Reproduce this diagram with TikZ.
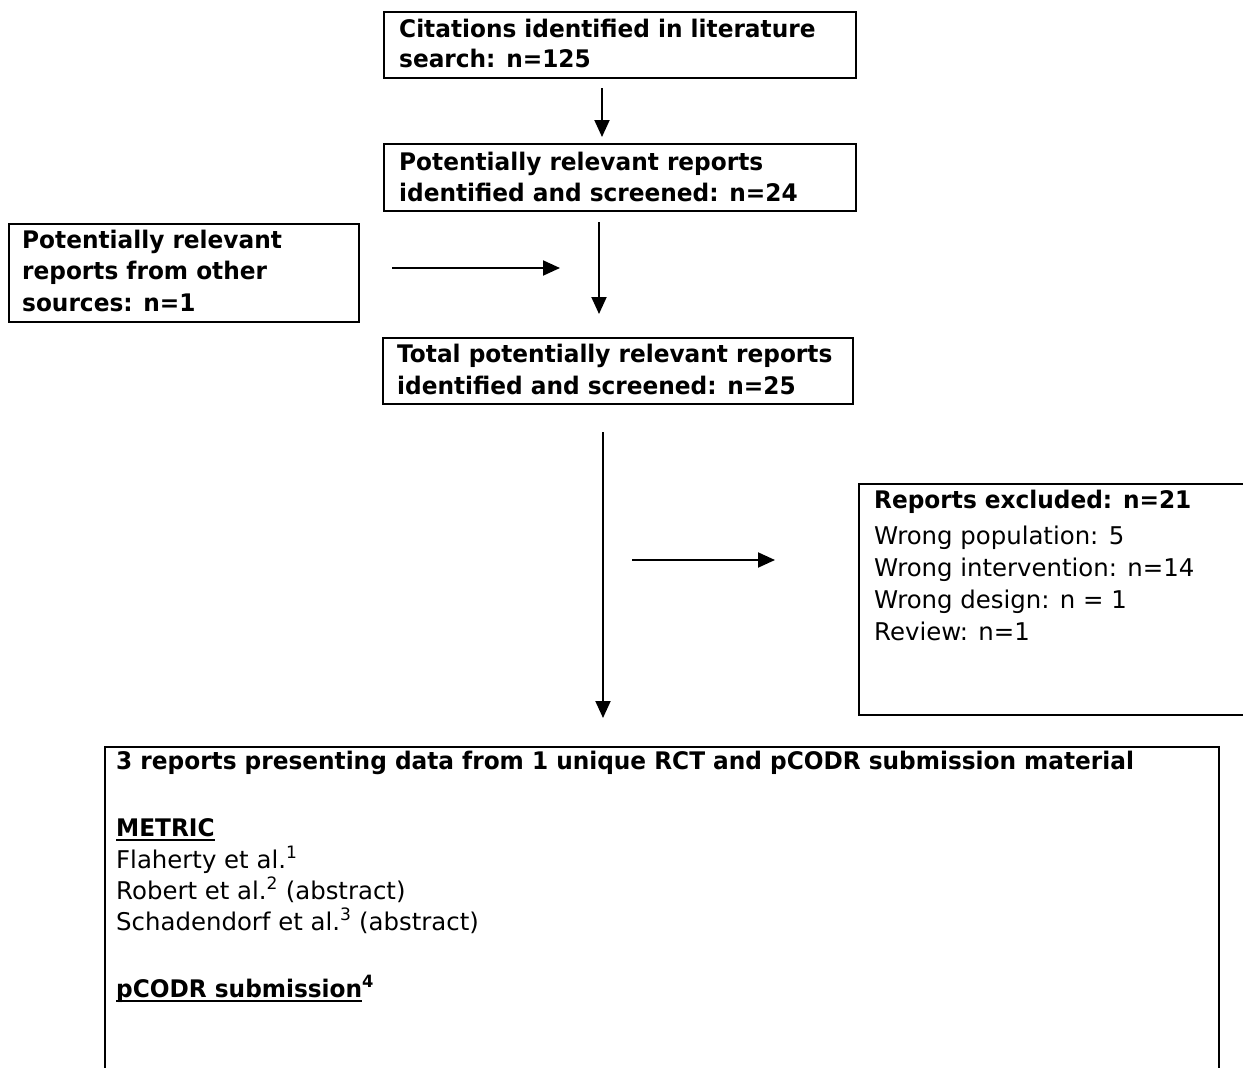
\documentclass[tikz,border=0pt]{standalone}
\usepackage{fontspec}
\setmainfont{DejaVu Sans}[BoldFeatures={FakeStretch=0.96}]
\usetikzlibrary{arrows.meta}
\newcommand\myul[1]{\setbox0\hbox{#1}\rlap{\rule[-5pt]{\wd0}{2.5pt}}\box0}
\begin{document}
\begin{tikzpicture}[x=1pt,y=-1pt,
  box/.style={draw, line width=2.3pt, rectangle, anchor=north west, inner sep=0pt},
  txt/.style={anchor=base west, inner sep=0pt, font=\fontsize{24.4}{30}\selectfont},
  btxt/.style={anchor=base west, inner sep=0pt, font=\fontsize{24.2}{30}\selectfont\bfseries},
  arr/.style={line width=2pt, -{Triangle[length=17pt,width=15pt]}}]
\useasboundingbox (0,0) rectangle (1243,1068);
\clip (0,0) rectangle (1243,1068);
% boxes
\node[box, minimum width=472pt, minimum height=66pt] (b1) at (383,11) {};
\node[box, minimum width=472pt, minimum height=67pt] (b2) at (383,143) {};
\node[box, minimum width=350pt, minimum height=98pt] (b3) at (8,223) {};
\node[box, minimum width=470pt, minimum height=66pt] (b4) at (382,337) {};
\node[box, minimum width=420pt, minimum height=231pt] (b5) at (858,483) {};
\node[box, minimum width=1114pt, minimum height=360pt] (b6) at (104,746) {};
% texts
\node[btxt] (t1a) at (399,37) {Citations identified in literature};
\node[btxt] (t1b) at (399,67) {search: n=125};
\node[btxt] (t2a) at (399,170) {Potentially relevant reports};
\node[btxt] (t2b) at (399,201) {identified and screened: n=24};
\node[btxt] (t3a) at (22,248) {Potentially relevant};
\node[btxt] (t3b) at (22,279) {reports from other};
\node[btxt] (t3c) at (22,311) {sources: n=1};
\node[btxt] (t4a) at (397,362) {Total potentially relevant reports};
\node[btxt] (t4b) at (397,394) {identified and screened: n=25};
\node[btxt] (t5a) at (874,508) {Reports excluded: n=21};
\node[txt] (t5b) at (874,544) {Wrong population: 5};
\node[txt] (t5c) at (874,576) {Wrong intervention: n=14};
\node[txt] (t5d) at (874,608) {Wrong design: n = 1};
\node[txt] (t5e) at (874,640) {Review: n=1};
\node[btxt] (t6a) at (116,769) {3 reports presenting data from 1 unique RCT and pCODR submission material};
\node[btxt] (t6b) at (116,836) {\myul{METRIC}};
\node[txt] (t6c) at (116,868) {Flaherty et al.\textsuperscript{1}};
\node[txt] (t6d) at (116,899) {Robert et al.\textsuperscript{2} (abstract)};
\node[txt] (t6e) at (116,930) {Schadendorf et al.\textsuperscript{3} (abstract)};
\node[btxt] (t6f) at (116,997) {\myul{pCODR submission}\textsuperscript{4}};
% arrows
\coordinate (a1s) at (602,88);  \coordinate (a1e) at (602,137);
\coordinate (a2s) at (392,268); \coordinate (a2e) at (560,268);
\coordinate (a3s) at (599,222); \coordinate (a3e) at (599,314);
\coordinate (a4s) at (603,432); \coordinate (a4e) at (603,718);
\coordinate (a5s) at (632,560); \coordinate (a5e) at (775,560);
\draw[arr] (a1s) -- (a1e);
\draw[arr] (a2s) -- (a2e);
\draw[arr] (a3s) -- (a3e);
\draw[arr] (a4s) -- (a4e);
\draw[arr] (a5s) -- (a5e);
\end{tikzpicture}
\end{document}
